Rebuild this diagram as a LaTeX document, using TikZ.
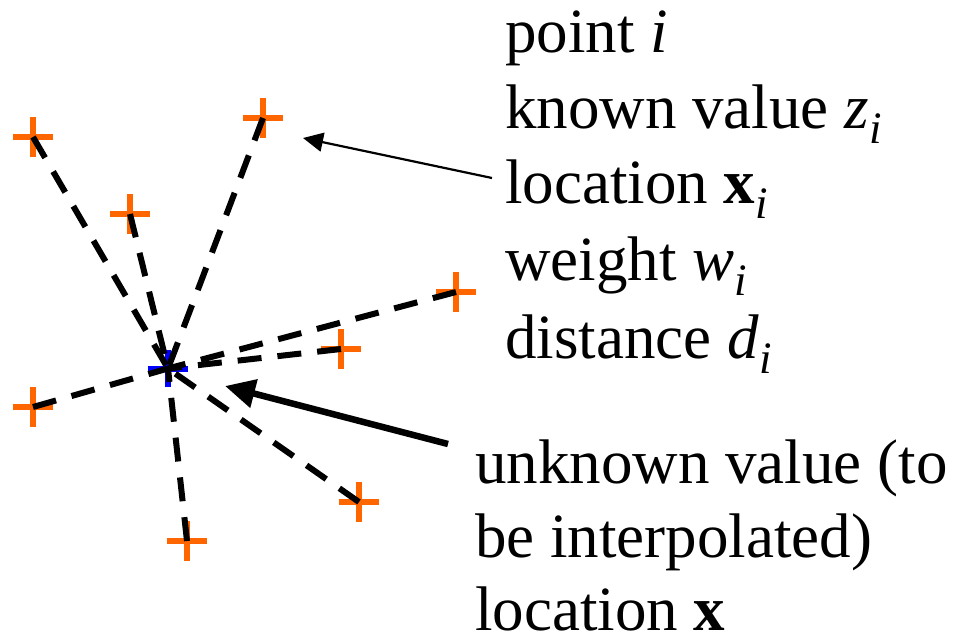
\documentclass[tikz,border=0pt]{standalone}
\usepackage{fontspec}
\setmainfont{Liberation Serif}
\usetikzlibrary{arrows.meta}
\definecolor{ptorange}{RGB}{255,102,0}
\definecolor{ptblue}{RGB}{0,0,255}
\newcommand{\lsub}[1]{\raisebox{-15pt}{\fontsize{45}{45}\selectfont #1}}
\tikzset{
  orangecross/.style={draw=ptorange, line width=6pt},
  bluecross/.style={draw=ptblue, line width=6pt},
  dashline/.style={draw=black, line width=6pt, dash pattern=on 24pt off 16pt},
  thinarrow/.style={draw=black, line width=2.2pt, -{Triangle[length=20pt,width=19pt]}},
  thickarrow/.style={draw=black, line width=6.5pt, -{Triangle[length=30pt,width=28pt]}},
  label/.style={anchor=base west, inner sep=0pt, font=\fontsize{63}{76}\selectfont}
}
\begin{document}
\begin{tikzpicture}[x=1pt,y=-1pt]
\useasboundingbox (0,0) rectangle (957,635);
\coordinate (c) at (168,368.5);
\coordinate (pA) at (33,137);
\coordinate (pB) at (263,118);
\coordinate (pC) at (130,214);
\coordinate (pD) at (456,292);
\coordinate (pE) at (341,349);
\coordinate (pF) at (33,407);
\coordinate (pG) at (187,541);
\coordinate (pH) at (359,502);
% crosses
\draw[bluecross] ([xshift=-20pt]c) -- ([xshift=20pt]c) ([yshift=-18.5pt]c) -- ([yshift=18.5pt]c);
\foreach \p in {pA,pB,pC,pD,pE,pF,pG,pH}
  \draw[orangecross] ([xshift=-20pt]\p) -- ([xshift=20pt]\p) ([yshift=-20pt]\p) -- ([yshift=20pt]\p);
% dashed connectors
\foreach \p in {pA,pB,pC,pD,pE,pF,pG,pH}
  \draw[dashline] (\p) -- (c);
% labels
\node[label] (t1) at (505,52) {point \textit{i}};
\node[label] (t2) at (505,128) {known value \textit{z}\lsub{\textit{i}}};
\node[label] (t3) at (505,203) {location \textbf{x}\lsub{\textit{i}}};
\node[label] (t4) at (505,280) {weight \textit{w}\lsub{\textit{i}}};
\node[label] (t5) at (505,358) {distance \textit{d}\lsub{\textit{i}}};
\node[label] (u1) at (475,483) {unknown value (to};
\node[label] (u2) at (475,557) {be interpolated)};
\node[label] (u3) at (475,630) {location \textbf{x}};
% arrows
\coordinate (a1s) at (492,178);
\coordinate (a1e) at (303,138);
\draw[thinarrow] (a1s) -- (a1e);
\coordinate (a2s) at (448,444);
\coordinate (a2e) at (225,386);
\draw[thickarrow] (a2s) -- (a2e);
\end{tikzpicture}
\end{document}
